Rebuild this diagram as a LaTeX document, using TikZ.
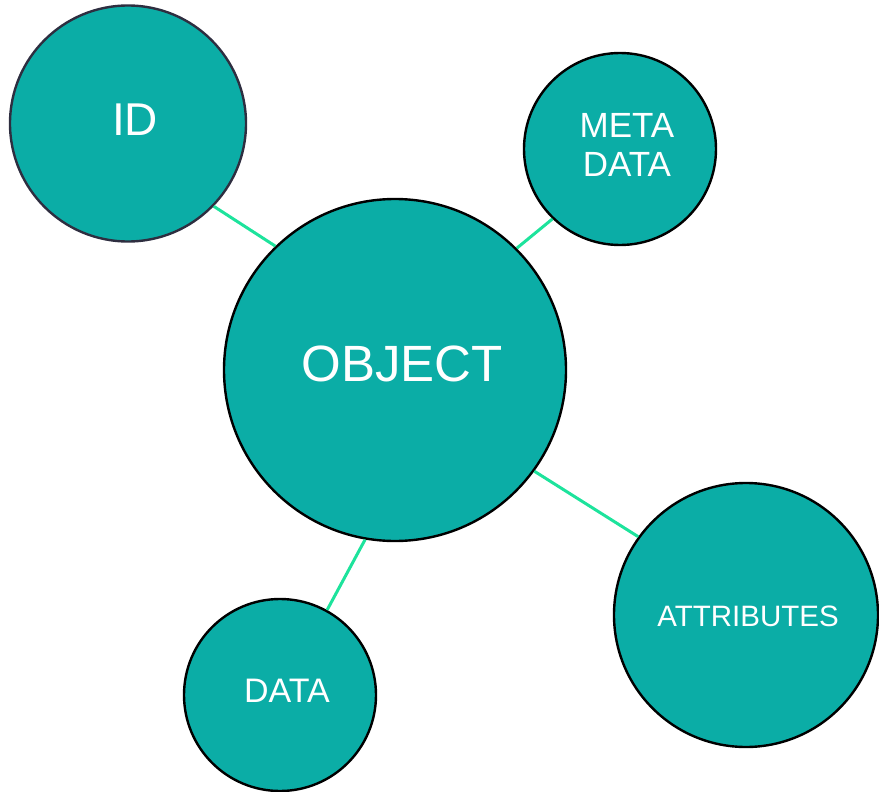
\documentclass[tikz,border=0pt]{standalone}
\usepackage{fontspec}
\setmainfont{Liberation Sans}
\definecolor{tealfill}{HTML}{0BADA6}
\definecolor{linkgreen}{HTML}{1DE39C}
\definecolor{navyedge}{HTML}{2E2E40}
\tikzset{
  bubble/.style={circle, fill=tealfill, draw=black, line width=2.4pt, inner sep=0pt},
  lbl/.style={text=white, inner sep=0pt, align=center},
  link/.style={draw=linkgreen, line width=3pt}
}
\begin{document}
\begin{tikzpicture}[x=1pt,y=-1pt]
\useasboundingbox (0,0) rectangle (879,792);
\node[bubble, draw=navyedge, minimum size=236pt] (id) at (128,123.5) {};
\node[bubble, minimum size=192pt] (meta) at (620,149) {};
\node[bubble, minimum size=342pt] (obj) at (395,370) {};
\node[bubble, minimum size=264pt] (attr) at (746,615) {};
\node[bubble, minimum size=192pt] (data) at (280,695) {};
\node[lbl, font=\fontsize{46}{50}\selectfont] (idt) at (135,120) {ID};
\node[lbl, font=\fontsize{35}{39}\selectfont] (metat) at (627,145) {META\\DATA};
\node[lbl, font=\fontsize{51}{56}\selectfont] (objt) at (402,364) {OBJECT};
\node[lbl, font=\fontsize{29.5}{32}\selectfont] (attrt) at (748,616) {ATTRIBUTES};
\node[lbl, font=\fontsize{34}{38}\selectfont] (datat) at (287,691) {DATA};
\draw[link] (id.-44.8) -- (obj.134.5);
\draw[link] (meta.-134.6) -- (obj.45.5);
\draw[link] (obj.-36.7) -- (attr.144.5);
\draw[link] (obj.-100.9) -- (data.61.4);
\end{tikzpicture}
\end{document}
